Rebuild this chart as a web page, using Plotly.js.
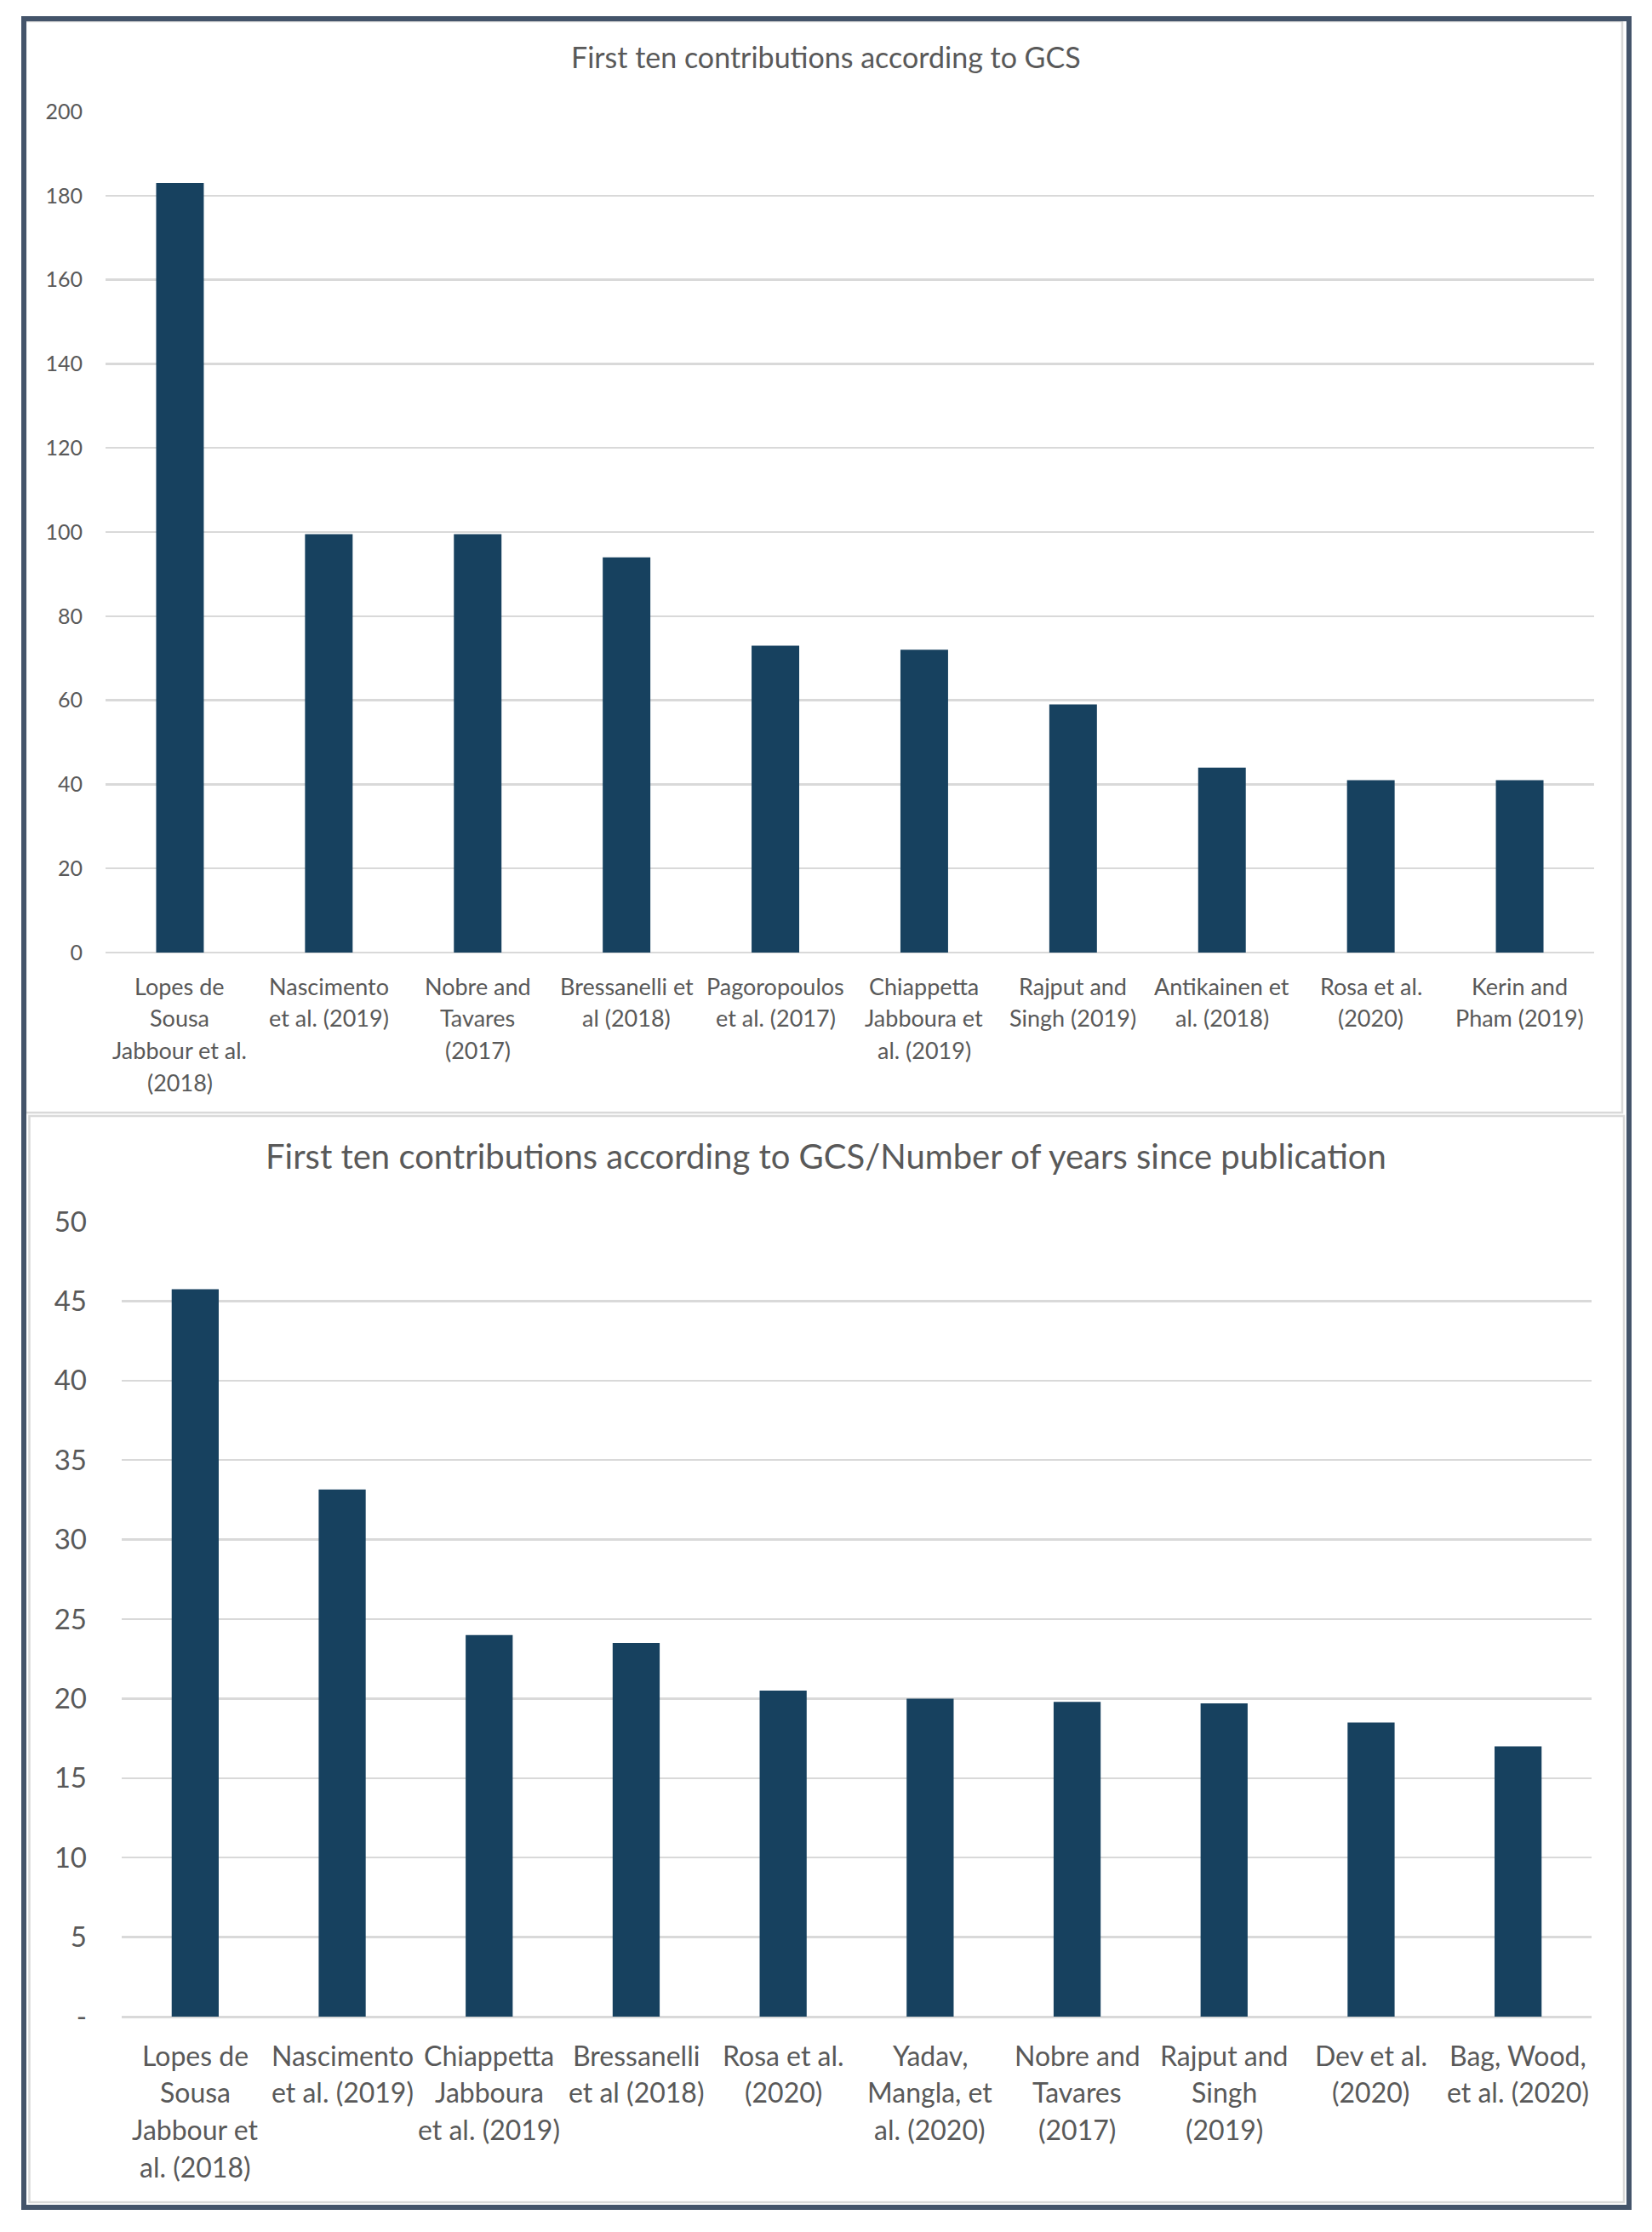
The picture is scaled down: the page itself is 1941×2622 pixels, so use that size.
<!DOCTYPE html>
<html>
<head>
<meta charset="utf-8">
<script src="https://cdn.plot.ly/plotly-3.0.1.min.js"></script>
<style>html,body{margin:0;padding:0;background:#fff;}#chart{width:1941px;height:2622px;}</style>
</head>
<body>
<div id="chart"></div>
<script>
// ---- data ----
const gcsCategories = ["Lopes de Sousa Jabbour et al. (2018)", "Nascimento et al. (2019)", "Nobre and Tavares (2017)", "Bressanelli et al (2018)", "Pagoropoulos et al. (2017)", "Chiappetta Jabboura et al. (2019)", "Rajput and Singh (2019)", "Antikainen et al. (2018)", "Rosa et al. (2020)", "Kerin and Pham (2019)"];
const gcsLabels = ["Lopes de|Sousa|Jabbour et al.|(2018)", "Nascimento|et al. (2019)", "Nobre and|Tavares|(2017)", "Bressanelli et|al (2018)", "Pagoropoulos|et al. (2017)", "Chiappetta|Jabboura et|al. (2019)", "Rajput and|Singh (2019)", "Antikainen et|al. (2018)", "Rosa et al.|(2020)", "Kerin and|Pham (2019)"];
const gcsValues = [183, 99.5, 99.5, 94, 73, 72, 59, 44, 41, 41];
const gcsTickVals = [0, 20, 40, 60, 80, 100, 120, 140, 160, 180, 200];
const gcsTickText = ["0", "20", "40", "60", "80", "100", "120", "140", "160", "180", "200"];

const perYearCategories = ["Lopes de Sousa Jabbour et al. (2018)", "Nascimento et al. (2019)", "Chiappetta Jabboura et al. (2019)", "Bressanelli et al (2018)", "Rosa et al. (2020)", "Yadav, Mangla, et al. (2020)", "Nobre and Tavares (2017)", "Rajput and Singh (2019)", "Dev et al. (2020)", "Bag, Wood, et al. (2020)"];
const perYearLabels = ["Lopes de|Sousa|Jabbour et|al. (2018)", "Nascimento|et al. (2019)", "Chiappetta|Jabboura|et al. (2019)", "Bressanelli|et al (2018)", "Rosa et al.|(2020)", "Yadav,|Mangla, et|al. (2020)", "Nobre and|Tavares|(2017)", "Rajput and|Singh|(2019)", "Dev et al.|(2020)", "Bag, Wood,|et al. (2020)"];
const perYearValues = [45.75, 33.15, 24, 23.5, 20.5, 20, 19.8, 19.7, 18.5, 17];
const perYearTickVals = [0, 5, 10, 15, 20, 25, 30, 35, 40, 45, 50];
const perYearTickText = ["-", "5", "10", "15", "20", "25", "30", "35", "40", "45", "50"];

const title1 = "First ten contributions according to GCS";
const title2 = "First ten contributions according to GCS/Number of years since publication";

// ---- styling ----
const W = 1941, H = 2622;
const px = v => v / W;
const py = v => 1 - v / H;
const BAR = "#17415F";
const TXT = "#595959";
const GRID = "#d9d9d9";
const FONT = "Lato, 'Open Sans', sans-serif";

const traces = [
  {type: "bar", x: gcsCategories, y: gcsValues, xaxis: "x", yaxis: "y",
   marker: {color: BAR}, hoverinfo: "x+y", showlegend: false},
  {type: "bar", x: perYearCategories, y: perYearValues, xaxis: "x2", yaxis: "y2",
   marker: {color: BAR}, hoverinfo: "x+y", showlegend: false}
];

const annotations = [];
function addLabels(cats, labels, xref, yref, first, step, size) {
  cats.forEach((c, i) => {
    labels[i].split("|").forEach((line, j) => {
      annotations.push({x: c, y: 0, xref: xref, yref: yref, text: line, showarrow: false,
        xanchor: "center", yanchor: "middle", yshift: -(first + j * step),
        font: {family: FONT, size: size, color: TXT}});
    });
  });
}
addLabels(gcsCategories, gcsLabels, "x", "y", 39, 37.8, 27);
addLabels(perYearCategories, perYearLabels, "x2", "y2", 45, 43.7, 32);

annotations.push({x: 0.5, y: py(67), xref: "paper", yref: "paper", text: title1, showarrow: false,
  xanchor: "center", yanchor: "middle", font: {family: FONT, size: 34, color: TXT}});
annotations.push({x: 0.5, y: py(1358), xref: "paper", yref: "paper", text: title2, showarrow: false,
  xanchor: "center", yanchor: "middle", font: {family: FONT, size: 40, color: TXT}});

const shapes = [
  {type: "rect", xref: "paper", yref: "paper", x0: px(30), x1: px(1906), y0: py(25), y1: py(1307),
   line: {color: GRID, width: 2.5}, fillcolor: "rgba(0,0,0,0)", layer: "below"},
  {type: "rect", xref: "paper", yref: "paper", x0: px(34.5), x1: px(1908), y0: py(1311), y1: py(2587),
   line: {color: GRID, width: 2.5}, fillcolor: "rgba(0,0,0,0)", layer: "below"},
  {type: "rect", xref: "paper", yref: "paper", x0: px(28), x1: px(1914), y0: py(22), y1: py(2593),
   line: {color: "#44546A", width: 6}, fillcolor: "rgba(0,0,0,0)", layer: "above"}
];

const layout = {
  width: W, height: H,
  margin: {l: 0, r: 0, t: 0, b: 0},
  paper_bgcolor: "#ffffff", plot_bgcolor: "rgba(0,0,0,0)",
  title: {text: ""},
  font: {family: FONT, color: TXT},
  bargap: 0.68,
  showlegend: false,
  xaxis: {domain: [px(124), px(1873)], anchor: "y", type: "category",
    showticklabels: false, ticks: "", showgrid: false, zeroline: false, showline: false, fixedrange: true},
  yaxis: {domain: [py(1119), py(131)], anchor: "x", range: [0, 200], tickmode: "array",
    tickvals: gcsTickVals, ticktext: gcsTickText, ticks: "", showline: false,
    showgrid: true, gridcolor: GRID, gridwidth: 2.5, zeroline: true, zerolinecolor: GRID, zerolinewidth: 2.5,
    ticklabelstandoff: 26, tickfont: {family: FONT, size: 25, color: TXT}, fixedrange: true},
  xaxis2: {domain: [px(143), px(1870)], anchor: "y2", type: "category",
    showticklabels: false, ticks: "", showgrid: false, zeroline: false, showline: false, fixedrange: true},
  yaxis2: {domain: [py(2369), py(1435)], anchor: "x2", range: [0, 50], tickmode: "array",
    tickvals: perYearTickVals, ticktext: perYearTickText, ticks: "", showline: false,
    showgrid: true, gridcolor: GRID, gridwidth: 2.5, zeroline: true, zerolinecolor: GRID, zerolinewidth: 3,
    ticklabelstandoff: 40, tickfont: {family: FONT, size: 33, color: TXT}, fixedrange: true},
  annotations: annotations,
  shapes: shapes
};

Plotly.newPlot("chart", traces, layout, {displayModeBar: false, staticPlot: true});
</script>
</body>
</html>
